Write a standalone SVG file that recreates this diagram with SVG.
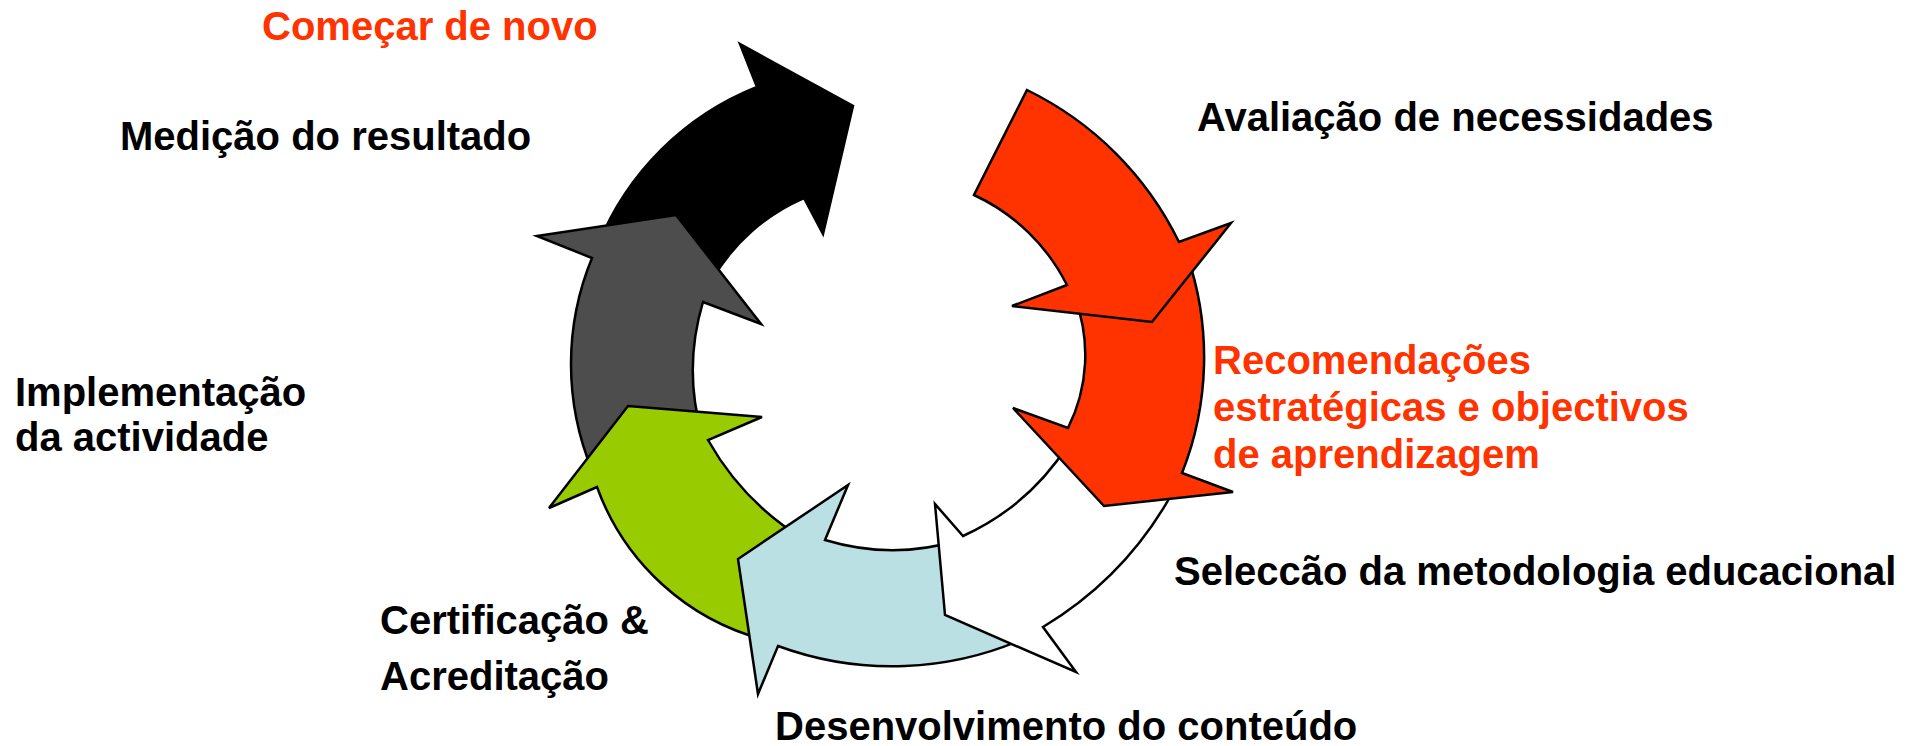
<svg xmlns="http://www.w3.org/2000/svg" width="1917" height="746" viewBox="0 0 1917 746">
<style>
  .lbl { font-family: "Liberation Sans", Arial, sans-serif; font-weight: bold; font-size: 40px; fill: #000000; }
  .hl { fill: #ff3300; }
  .arr { stroke: #000000; stroke-width: 2.5; stroke-linejoin: miter; }
  .black { fill: #000000; }
  .gray { fill: #4d4d4d; }
  .green { fill: #99cc00; }
  .blue { fill: #bbe0e3; }
  .white { fill: #ffffff; }
  .red { fill: #ff3300; }
</style>
<rect width="1917" height="746" fill="#ffffff"/>
<g id="connectors">
  <path id="arrow-medicao" class="arr black" d="M757,87 L740,44 L853,106 L823,234 L804,198 A195,195 0 0 0 712,280 L598,245 A285,285 0 0 1 757,87 Z"/>
  <path id="arrow-implementacao" class="arr gray" d="M537,236 L676,215 L761,324 L703,302 A237,237 0 0 0 702,435 L592,470 A278,278 0 0 1 592,258 Z"/>
  <path id="arrow-certificacao" class="arr green" d="M628,406 L762,417 L708,440 A274,274 0 0 0 805,540 L765,640 A244,244 0 0 1 597,487 L549,508 Z"/>
  <path id="arrow-desenvolvimento" class="arr blue" d="M848,485 L738,559 L758,694 L778,646 A330,330 0 0 0 1030,636 L960,540 A233,233 0 0 1 825,540 Z"/>
  <path id="arrow-seleccao" class="arr white" d="M935,504 L945,615 L1076,672 L1043,627 A360,360 0 0 0 1175,488 L1068,445 A246,246 0 0 1 963,536 Z"/>
  <path id="arrow-recomendacoes" class="arr red" d="M1013,408 L1104,506 L1233,492 L1182,473 A314,314 0 0 0 1187,255 L1075,298 A163,163 0 0 1 1068,428 Z"/>
  <path id="arrow-avaliacao" class="arr red" d="M1027,90 A330,330 0 0 1 1179,242 L1231,223 L1152,322 L1012,306 L1067,285 A196,196 0 0 0 974,195 Z"/>
</g>
<g id="node-comecar"><text class="lbl hl" x="262" y="40">Começar de novo</text></g>
<g id="node-medicao"><text class="lbl" x="120" y="150">Medição do resultado</text></g>
<g id="node-avaliacao"><text class="lbl" x="1197" y="131">Avaliação de necessidades</text></g>
<g id="node-recomendacoes">
  <text class="lbl hl" x="1213" y="374">Recomendações</text>
  <text class="lbl hl" x="1213" y="421">estratégicas e objectivos</text>
  <text class="lbl hl" x="1213" y="468">de aprendizagem</text>
</g>
<g id="node-seleccao"><text class="lbl" x="1174" y="585">Seleccão da metodologia educacional</text></g>
<g id="node-desenvolvimento"><text class="lbl" x="775" y="740">Desenvolvimento do conteúdo</text></g>
<g id="node-certificacao">
  <text class="lbl" x="380" y="634">Certificação &amp;</text>
  <text class="lbl" x="380" y="690">Acreditação</text>
</g>
<g id="node-implementacao">
  <text class="lbl" x="15" y="406">Implementação</text>
  <text class="lbl" x="15" y="451">da actividade</text>
</g>
</svg>
